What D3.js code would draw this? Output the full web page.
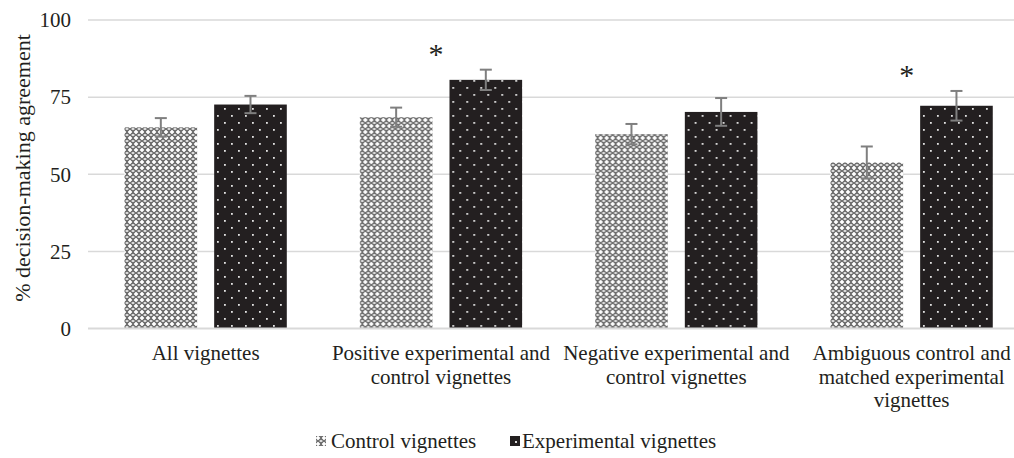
<!DOCTYPE html>
<html>
<head>
<meta charset="utf-8">
<script src="https://cdn.jsdelivr.net/npm/d3@7"></script>
<style>
  html, body { margin: 0; padding: 0; background: #fff; }
  svg { display: block; }
  svg text { font-family: "Liberation Serif", "Times New Roman", serif; }
</style>
</head>
<body>
<svg id="chart" width="1014" height="458"></svg>
<script>
const categories = [
  ["All vignettes"],
  ["Positive experimental and", "control vignettes"],
  ["Negative experimental and", "control vignettes"],
  ["Ambiguous control and", "matched experimental", "vignettes"]
];
const seriesNames = ["Control vignettes", "Experimental vignettes"];
const controlValues = [65.2, 68.5, 63.0, 53.8];
const controlErrors = [3.0, 3.1, 3.3, 5.2];
const experimentalValues = [72.6, 80.6, 70.2, 72.2];
const experimentalErrors = [2.8, 3.3, 4.5, 4.8];
const significant = [false, true, false, true];
const yTicks = [0, 25, 50, 75, 100];

const svg = d3.select("#chart");
const defs = svg.append("defs");
const textColor = "#231f20";
const font = "Liberation Serif";

// Control pattern: grey lattice with white crosses
const pc = defs.append("pattern").attr("id", "pCtrl").attr("patternUnits", "userSpaceOnUse")
  .attr("width", 6).attr("height", 6);
pc.append("rect").attr("width", 6).attr("height", 6).attr("fill", "#707070");
pc.append("path").attr("d", "M0,0h1v1h-1zM5,0h1v1h-1zM0,5h1v1h-1zM5,5h1v1h-1z").attr("fill", "#fff");
pc.append("path").attr("d", "M2.5,3h1v1h-1zM2.5,2h1v1h-1zM1.5,2.5h1v1h-1zM3.5,2.5h1v1h-1z").attr("fill", "#fff");
pc.append("path").attr("d", "M1,0h1v1h-1zM0,1h1v1h-1zM4,0h1v1h-1zM5,1h1v1h-1zM0,4h1v1h-1zM1,5h1v1h-1zM5,4h1v1h-1zM4,5h1v1h-1z").attr("fill", "#e6e6e6");

// Experimental pattern: near-black with staggered light dots
const pe = defs.append("pattern").attr("id", "pExp").attr("patternUnits", "userSpaceOnUse")
  .attr("width", 14).attr("height", 14);
pe.append("rect").attr("width", 14).attr("height", 14).attr("fill", "#231f20");
pe.append("rect").attr("x", 3).attr("y", 3).attr("width", 1.8).attr("height", 1.8).attr("fill", "#e4e4e4");
pe.append("rect").attr("x", 10).attr("y", 10).attr("width", 1.8).attr("height", 1.8).attr("fill", "#e4e4e4");

const fills = ["url(#pCtrl)", "url(#pExp)"];

const x0 = d3.scaleBand().domain(d3.range(categories.length)).range([88, 1029.3]).padding(0);
const x1 = d3.scaleBand().domain(seriesNames).range([36.5, 198.8]).paddingInner(0.19).paddingOuter(0);
const y = d3.scaleLinear().domain([0, 100]).range([328.5, 20]);

// gridlines
svg.append("g").selectAll("line").data(yTicks.filter(t => t > 0)).join("line")
  .attr("x1", 88).attr("x2", 1014)
  .attr("y1", d => y(d)).attr("y2", d => y(d))
  .attr("stroke", "#d9d9d9").attr("stroke-width", 1.5);

// y tick labels
svg.append("g").selectAll("text").data(yTicks).join("text")
  .attr("x", 71).attr("y", d => y(d)).attr("dy", "0.35em")
  .attr("text-anchor", "end").attr("font-size", 21).attr("fill", textColor)
  .style("font-family", font).text(d => d);

// y axis title
svg.append("text")
  .attr("transform", "translate(22,168) rotate(-90)")
  .attr("text-anchor", "middle").attr("dy", "0.35em").attr("font-size", 22).attr("fill", textColor)
  .style("font-family", font)
  .text("% decision-making agreement");

const rows = categories.map((c, i) => ([
  { s: seriesNames[0], v: controlValues[i], e: controlErrors[i], i },
  { s: seriesNames[1], v: experimentalValues[i], e: experimentalErrors[i], i }
]));

const g = svg.append("g").selectAll("g").data(rows).join("g")
  .attr("transform", (d, i) => `translate(${x0(i)},0)`);

g.selectAll("rect").data(d => d).join("rect")
  .attr("x", d => x1(d.s)).attr("width", x1.bandwidth())
  .attr("y", d => y(d.v)).attr("height", d => y(0) - y(d.v))
  .attr("fill", (d, j) => fills[j]);

// error bars
const eb = g.selectAll("g.eb").data(d => d).join("g").attr("class", "eb");
const cx = d => x1(d.s) + x1.bandwidth() / 2;
eb.append("line")
  .attr("x1", cx).attr("x2", cx)
  .attr("y1", d => y(d.v - d.e)).attr("y2", d => y(d.v + d.e))
  .attr("stroke", "#7f7f7f").attr("stroke-width", 2);
eb.append("line")
  .attr("x1", d => cx(d) - 6).attr("x2", d => cx(d) + 6)
  .attr("y1", d => y(d.v + d.e)).attr("y2", d => y(d.v + d.e))
  .attr("stroke", "#7f7f7f").attr("stroke-width", 2);
eb.append("line")
  .attr("x1", d => cx(d) - 6).attr("x2", d => cx(d) + 6)
  .attr("y1", d => y(d.v - d.e)).attr("y2", d => y(d.v - d.e))
  .attr("stroke", "#7f7f7f").attr("stroke-width", 2);

// baseline
svg.append("line").attr("x1", 88).attr("x2", 1014).attr("y1", y(0)).attr("y2", y(0))
  .attr("stroke", "#d9d9d9").attr("stroke-width", 2);

// significance asterisks
svg.append("g").selectAll("text").data(rows.filter((d, i) => significant[i])).join("text")
  .attr("x", d => x0(d[1].i) + x0.bandwidth() / 2 - 5)
  .attr("y", d => y(d[1].v + d[1].e) - 6)
  .attr("text-anchor", "middle").attr("font-size", 30).attr("fill", textColor)
  .style("font-family", font).text("*");

// category labels
const cl = svg.append("g").selectAll("text").data(categories).join("text")
  .attr("text-anchor", "middle").attr("font-size", 21).attr("fill", textColor)
  .style("font-family", font)
  .attr("x", (d, i) => x0(i) + x0.bandwidth() / 2).attr("y", 360);
cl.selectAll("tspan").data(d => d).join("tspan")
  .attr("x", function () { return this.parentNode.getAttribute("x"); })
  .attr("dy", (d, k) => k === 0 ? 0 : 23.5).text(d => d);

// legend
const leg = svg.append("g");
leg.append("rect").attr("x", 316).attr("y", 436).attr("width", 10).attr("height", 10).attr("fill", fills[0]);
leg.append("text").attr("x", 331).attr("y", 448).attr("font-size", 21).attr("fill", textColor)
  .style("font-family", font).text(seriesNames[0]);
leg.append("rect").attr("x", 510).attr("y", 436).attr("width", 10).attr("height", 10).attr("fill", "#231f20");
leg.append("rect").attr("x", 515).attr("y", 441).attr("width", 2).attr("height", 2).attr("fill", "#ddd");
leg.append("text").attr("x", 522).attr("y", 448).attr("font-size", 21).attr("fill", textColor)
  .style("font-family", font).text(seriesNames[1]);
</script>
</body>
</html>
